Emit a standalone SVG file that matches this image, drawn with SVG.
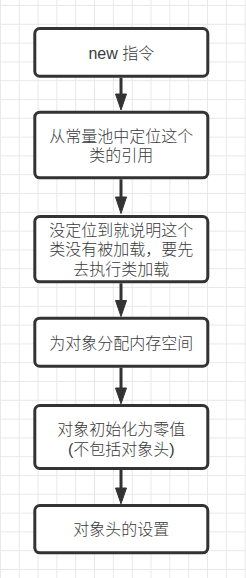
<svg xmlns="http://www.w3.org/2000/svg" width="246" height="578" viewBox="0 0 246 578">
<style>
.grid{stroke:#e8e8e8;stroke-width:1;fill:none}
.box{fill:#ffffff;stroke:#333333;stroke-width:3}
.lbl{font-family:"Liberation Sans","Noto Sans CJK SC",sans-serif;font-size:16px;font-weight:300;fill:#3a3a3a;text-anchor:middle;dominant-baseline:central}
.edge{stroke:#333333;stroke-width:3;fill:none}
.head{fill:#333333;stroke:#333333;stroke-width:1}
</style>
<rect width="246" height="578" fill="#ffffff"/>
<path class="grid" d="M0.45 0V578M19.27 0V578M38.09 0V578M56.91 0V578M75.73 0V578M94.55 0V578M113.37 0V578M132.19 0V578M151.01 0V578M169.83 0V578M188.65 0V578M207.47 0V578M226.29 0V578M245.11 0V578
M0 5.5H246M0 24.3H246M0 43.1H246M0 61.9H246M0 80.7H246M0 99.5H246M0 118.3H246M0 137.1H246M0 155.9H246M0 174.7H246M0 193.5H246M0 212.3H246M0 231.1H246M0 249.9H246M0 268.7H246M0 287.5H246M0 306.3H246M0 325.1H246M0 343.9H246M0 362.7H246M0 381.5H246M0 400.3H246M0 419.1H246M0 437.9H246M0 456.7H246M0 475.5H246M0 494.3H246M0 513.1H246M0 531.9H246M0 550.7H246M0 569.5H246"/>
<g id="connectors">
<path class="edge" d="M121 77.7V95"/><path class="head" d="M115.5 94L126.5 94L121 110Z"/>
<path class="edge" d="M121 179.3V198"/><path class="head" d="M115.5 197L126.5 197L121 213.5Z"/>
<path class="edge" d="M121 283.3V302"/><path class="head" d="M115.5 300.5L126.5 300.5L121 316.5Z"/>
<path class="edge" d="M121 367.7V389"/><path class="head" d="M115.5 388L126.5 388L121 403.8Z"/>
<path class="edge" d="M121 470V489"/><path class="head" d="M115.5 488L126.5 488L121 503.8Z"/>
</g>
<g id="n1"><rect class="box" x="34.8" y="28.5" width="173" height="47.7" rx="5"/><text class="lbl" x="121.3" y="53">new 指令</text></g>
<g id="n2"><rect class="box" x="34.8" y="112.2" width="173" height="65.6" rx="5"/><text class="lbl" x="121.3" y="136.5">从常量池中定位这个</text><text class="lbl" x="121.3" y="155.5">类的引用</text></g>
<g id="n3"><rect class="box" x="34.8" y="216.5" width="173" height="65.3" rx="5"/><text class="lbl" x="121.3" y="230.5">没定位到就说明这个</text><text class="lbl" x="121.3" y="249.8">类没有被加载，要先</text><text class="lbl" x="121.3" y="269.1">去执行类加载</text></g>
<g id="n4"><rect class="box" x="34.8" y="318.2" width="173" height="48" rx="5"/><text class="lbl" x="121.3" y="343.5">为对象分配内存空间</text></g>
<g id="n5"><rect class="box" x="34.8" y="405.5" width="173" height="63" rx="5"/><text class="lbl" x="121.3" y="429">对象初始化为零值</text><text class="lbl" x="121.3" y="449">(不包括对象头)</text></g>
<g id="n6"><rect class="box" x="34.8" y="505.5" width="173" height="47.3" rx="5"/><text class="lbl" x="121.3" y="529.5">对象头的设置</text></g>
</svg>
